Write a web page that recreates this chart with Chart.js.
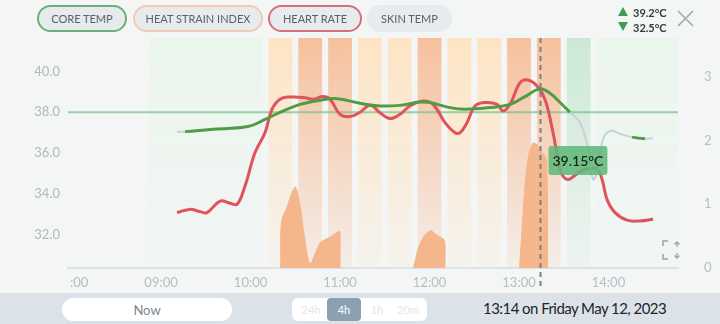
<!DOCTYPE html>
<html>
<head>
<meta charset="utf-8">
<script src="https://cdn.jsdelivr.net/npm/chart.js@4.4.1/dist/chart.umd.min.js"></script>
<style>
  body { margin: 0; width: 720px; height: 324px; background: #f4f6f6; font-family: Lato, "Open Sans", sans-serif; position: relative; overflow: hidden; }
  #wrap { position: absolute; left: 0; top: 0; width: 720px; height: 293px; }
  .pill { position: absolute; top: 5px; height: 27px; box-sizing: border-box; border-radius: 14px; background: #e7ebee;
          border: 2px solid transparent; font-size: 11px; color: #59626b; display: flex; align-items: center; justify-content: center; }
  .stat { position: absolute; left: 618px; font-size: 11px; font-weight: bold; color: #343c38; }
  .stat i { display: inline-block; width: 0; height: 0; border-left: 5px solid transparent; border-right: 5px solid transparent; margin-right: 5px; vertical-align: 1px; }
  .up i { border-bottom: 9px solid #3f9e55; }
  .down i { border-top: 9px solid #3f9e55; }
  #bar { position: absolute; left: 0; top: 293px; width: 720px; height: 31px; background: #dce3e8; }
  #now { position: absolute; left: 62px; top: 5px; width: 170px; height: 23px; border-radius: 12px; background: #fff;
         color: #7b858e; font-size: 13px; display: flex; align-items: center; justify-content: center; }
  #range { position: absolute; left: 292px; top: 5px; width: 135px; height: 23px; border-radius: 6px; background: #fff; }
  #range span { position: absolute; top: 0; height: 23px; line-height: 23px; font-size: 11px; color: #e2e6ea; text-align: center; }
  #range .sel { background: #8ba0b1; color: #fff; border-radius: 4px; }
  #stamp { position: absolute; left: 483px; top: 6px; font-size: 15px; color: #1f2428; letter-spacing: -0.55px; }
</style>
</head>
<body>
<div id="wrap"><canvas id="hsChart" width="720" height="293"></canvas></div>

<div class="pill" style="left:37px;width:90px;border-color:#6cae79">CORE TEMP</div>
<div class="pill" style="left:133px;width:130px;border-color:#f2cbb3">HEAT STRAIN INDEX</div>
<div class="pill" style="left:268px;width:94px;border-color:#d96e79">HEART RATE</div>
<div class="pill" style="left:367px;width:85px">SKIN TEMP</div>

<div class="stat up" style="top:6px"><i></i>39.2°C</div>
<div class="stat down" style="top:21px"><i></i>32.5°C</div>
<svg style="position:absolute;left:677px;top:10px" width="17" height="17">
  <path d="M1 1 L16 16 M16 1 L1 16" stroke="#a2aab1" stroke-width="1.6"/>
</svg>
<svg style="position:absolute;left:661px;top:239px" width="22" height="22">
  <path d="M2 7 V2 H7 M2 15 V20 H7" stroke="#9aa3ab" stroke-width="1.5" fill="none"/>
  <path d="M16 3 V8 M13.5 5.5 L16 3 L18.5 5.5 M16 14 V19 M13.5 16.5 L16 19 L18.5 16.5" stroke="#9aa3ab" stroke-width="1.3" fill="none"/>
</svg>

<div id="bar">
  <div id="now">Now</div>
  <div id="range">
    <span style="left:4px;width:30px">24h</span>
    <span class="sel" style="left:35px;width:34px">4h</span>
    <span style="left:72px;width:26px">1h</span>
    <span style="left:100px;width:32px">20m</span>
  </div>
  <div id="stamp">13:14 on Friday May 12, 2023</div>
</div>

<script>
// time axis is in minutes after midnight
const timeMin = 477.6;
const timeMax = 886.6;
const hourTicks = [480, 540, 600, 660, 720, 780, 840];
const tempTicks = [32, 34, 36, 38, 40];
const hsiTicks = [0, 1, 2, 3];
const tempMin = 30.35, tempMax = 41.65;
const hsiMax = 3.61;
const coreLimit = 38;
const cursorTime = 794;

// heat strain zones, 20 min slots
const zoneStart = [530, 610, 630, 650, 670, 690, 710, 730, 750, 770, 790, 810, 830];
const zoneEnd   = [610, 630, 650, 670, 690, 710, 730, 750, 770, 790, 810, 830, 890];
const zoneLevel = ['low', 'mid', 'high', 'high', 'mid', 'mid', 'high', 'mid', 'mid', 'high', 'high', 'ok', 'low'];
const zoneColors = { low: [234, 245, 236], ok: [204, 232, 212], mid: [253, 228, 196], high: [246, 192, 157] };

const coreTimes = [550.7, 556.1, 572.9, 598.3, 609.7, 619.8, 633.2, 646.6, 658.0, 673.4, 686.8, 700.2, 713.6, 720.3,
                   733.7, 743.8, 760.6, 774.0, 784.0, 794.0, 800.8, 807.5, 814.2, 820.9, 826.3, 829.6, 832.3, 836.3,
                   841.0, 847.7, 855.8, 864.5, 869.9];
const coreValues = [37.05, 37.05, 37.16, 37.3, 37.65, 38.0, 38.39, 38.59, 38.67, 38.44, 38.31, 38.34, 38.5, 38.48,
                    38.23, 38.15, 38.23, 38.39, 38.77, 39.15, 38.93, 38.48, 38.0, 37.5, 36.2, 34.7, 35.05, 36.67,
                    37.08, 36.95, 36.78, 36.7, 36.72];
const coreEstimated = [1, 0, 0, 0, 0, 0, 0, 0, 0, 0, 0, 0, 0, 0,
                       0, 0, 0, 0, 0, 0, 0, 0, 0, 1, 1, 1, 1, 1,
                       1, 1, 0, 0, 1];

const hrTimes = [550.7, 559.4, 566.1, 570.8, 579.6, 586.3, 591.0, 596.3, 603.0, 609.7, 614.4, 619.8, 626.5, 636.5,
                 641.9, 648.6, 653.3, 660.0, 666.7, 673.4, 680.1, 686.8, 693.5, 700.2, 706.9, 715.6, 722.4, 730.4,
                 737.1, 740.5, 745.1, 750.5, 757.2, 765.3, 769.3, 774.0, 780.7, 786.0, 792.1, 797.4, 802.8, 806.1,
                 808.8, 812.8, 817.5, 824.2, 832.3, 835.7, 839.0, 844.4, 852.4, 861.1, 869.9];
const hrValues = [33.07, 33.23, 33.12, 33.07, 33.64, 33.53, 33.48, 34.38, 36.02, 37.0, 38.15, 38.64, 38.75, 38.72,
                  38.64, 38.77, 38.64, 37.9, 37.79, 38.0, 38.34, 37.98, 37.69, 37.9, 38.31, 38.55, 38.39, 37.49,
                  37.0, 37.0, 37.49, 38.31, 38.48, 38.39, 38.06, 38.39, 39.46, 39.59, 39.29, 38.64, 37.0, 35.69,
                  34.95, 34.7, 34.9, 35.2, 35.2, 34.7, 33.72, 33.07, 32.7, 32.66, 32.74];

const hsiTimes = [619.8, 620.3, 624.0, 629.8, 633.2, 636.5, 639.9, 643.2, 646.6, 653.3, 660.0, 660.4, 661,
                  708.9, 713.6, 720.3, 725.0, 730.4, 730.8, 731.5,
                  780.0, 781.4, 783.4, 786.0, 789.4, 792.7, 796.1, 798.8, 799.5];
const hsiValues = [0, 0.71, 0.95, 1.28, 1.03, 0.49, 0.08, 0.24, 0.4, 0.49, 0.57, 0, null,
                   0, 0.4, 0.59, 0.52, 0.42, 0, null,
                   0, 0.5, 1.2, 1.75, 1.97, 1.92, 1.8, 1.7, 0];

const pts = (xs, ys) => xs.map((x, i) => ({ x: x, y: ys[i] }));
const coreGreen = '#4f9c45';
const coreGray = '#c8d0da';

// fixed axis sizes so the plot area stays put
const fixSize = (prop, size) => s => {
  s[prop] = size;
  s.paddingTop = s.paddingBottom = s.paddingLeft = s.paddingRight = 0;
};

const zonesPlugin = {
  id: 'zones',
  beforeDatasetsDraw(chart) {
    const { ctx, chartArea: a, scales } = chart;
    // hide the part of the first hour label that runs past the plot edge
    ctx.save();
    ctx.fillStyle = '#f4f6f6';
    ctx.fillRect(0, a.bottom + 2, a.left + 2, chart.height - a.bottom);
    ctx.restore();

    ctx.save();
    ctx.beginPath();
    ctx.rect(a.left, a.top, a.right - a.left, a.bottom - a.top);
    ctx.clip();
    zoneStart.forEach((s, i) => {
      const c = zoneColors[zoneLevel[i]];
      const x0 = scales.x.getPixelForValue(s) + 3;
      const x1 = scales.x.getPixelForValue(zoneEnd[i]) - 3;
      const g = ctx.createLinearGradient(0, a.top, 0, a.bottom);
      g.addColorStop(0, `rgba(${c[0]},${c[1]},${c[2]},1)`);
      g.addColorStop(1, `rgba(${c[0]},${c[1]},${c[2]},0.15)`);
      ctx.fillStyle = g;
      ctx.fillRect(x0, a.top, x1 - x0, a.bottom - a.top);
    });
    // core temperature limit
    const yl = scales.y.getPixelForValue(coreLimit);
    ctx.strokeStyle = 'rgba(120,196,138,0.75)';
    ctx.lineWidth = 2;
    ctx.beginPath();
    ctx.moveTo(a.left, yl);
    ctx.lineTo(a.right, yl);
    ctx.stroke();
    ctx.restore();
  }
};

const cursorPlugin = {
  id: 'cursor',
  afterDatasetsDraw(chart) {
    const { ctx, chartArea: a, scales } = chart;
    const cx = Math.round(scales.x.getPixelForValue(cursorTime)) + 0.5;
    ctx.save();
    ctx.strokeStyle = '#7b8086';
    ctx.lineWidth = 2;
    ctx.setLineDash([5, 4]);
    ctx.beginPath();
    ctx.moveTo(cx, a.top);
    ctx.lineTo(cx, a.bottom + 20);
    ctx.stroke();
    ctx.setLineDash([]);

    const value = coreValues[coreTimes.indexOf(cursorTime)];
    const label = value.toFixed(2) + '°C';
    ctx.font = '600 14px Lato';
    const w = ctx.measureText(label).width + 8;
    const bx = cx + 8, by = a.top + 108, bh = 29;
    ctx.fillStyle = 'rgba(96,184,122,0.88)';
    ctx.beginPath();
    ctx.roundRect(bx, by, w, bh, 3);
    ctx.fill();
    ctx.fillStyle = '#17261b';
    ctx.textBaseline = 'middle';
    ctx.fillText(label, bx + 4, by + bh / 2 + 1);
    ctx.restore();
  }
};

const tickFont = { family: 'Lato', size: 13 };

new Chart(document.getElementById('hsChart'), {
  type: 'line',
  data: {
    datasets: [
      {
        label: 'Core Temp',
        data: pts(coreTimes, coreValues),
        yAxisID: 'y',
        borderColor: coreGreen,
        borderWidth: 3,
        tension: 0.4,
        pointRadius: 0,
        segment: {
          borderColor: c => (coreEstimated[c.p0DataIndex] || coreEstimated[c.p1DataIndex]) ? coreGray : coreGreen,
          borderWidth: c => (coreEstimated[c.p0DataIndex] || coreEstimated[c.p1DataIndex]) ? 2 : 3
        }
      },
      {
        label: 'Heart Rate',
        data: pts(hrTimes, hrValues),
        yAxisID: 'y',
        borderColor: '#e0525d',
        borderWidth: 3,
        tension: 0.4,
        pointRadius: 0
      },
      {
        label: 'Heat Strain Index',
        data: pts(hsiTimes, hsiValues),
        yAxisID: 'y1',
        borderWidth: 0,
        backgroundColor: '#f5b68b',
        fill: 'origin',
        tension: 0.35,
        pointRadius: 0,
        spanGaps: false
      }
    ]
  },
  options: {
    responsive: false,
    animation: false,
    layout: { padding: { top: 38, left: 0, right: 0, bottom: 0 } },
    plugins: { legend: { display: false }, tooltip: { enabled: false } },
    scales: {
      x: {
        type: 'linear',
        min: timeMin,
        max: timeMax,
        afterBuildTicks: s => { s.ticks = hourTicks.map(v => ({ value: v })); },
        afterFit: fixSize('height', 25),
        grid: { display: false, drawTicks: false },
        border: { display: true, color: '#dde2e6', width: 2 },
        ticks: {
          color: '#b6bdc4', font: tickFont, padding: 7, maxRotation: 0, autoSkip: false,
          callback: v => String(Math.floor(v / 60)).padStart(2, '0') + ':00'
        }
      },
      y: {
        position: 'left',
        min: tempMin,
        max: tempMax,
        afterBuildTicks: s => { s.ticks = tempTicks.map(v => ({ value: v })); },
        afterFit: fixSize('width', 68),
        grid: { display: false, drawTicks: false },
        border: { display: false },
        ticks: { color: '#b0b8c0', font: tickFont, padding: 8, callback: v => v.toFixed(1) }
      },
      y1: {
        position: 'right',
        min: 0,
        max: hsiMax,
        afterBuildTicks: s => { s.ticks = hsiTicks.map(v => ({ value: v })); },
        afterFit: fixSize('width', 42),
        grid: { display: false, drawTicks: false },
        border: { display: false },
        ticks: { color: '#b6bdc4', font: tickFont, padding: 26 }
      }
    }
  },
  plugins: [zonesPlugin, cursorPlugin]
});
</script>
</body>
</html>
